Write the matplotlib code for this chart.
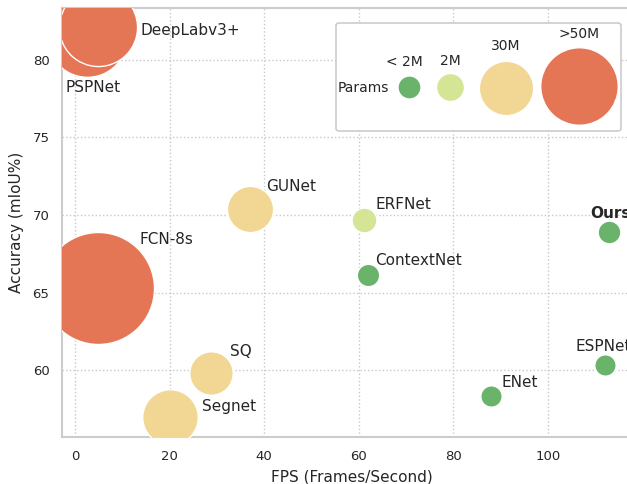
import matplotlib
matplotlib.use("Agg")
import matplotlib.pyplot as plt
from matplotlib.patches import FancyBboxPatch

# ---------------- data ----------------
models = ["PSPNet", "DeepLabv3+", "FCN-8s", "GUNet", "ERFNet", "ContextNet",
          "SQ", "Segnet", "ENet", "ESPNet", "Ours"]
fps = [2.5, 4.9, 4.9, 37.0, 61.0, 62.0, 28.8, 20.0, 88.0, 112.0, 113.0]
miou = [81.5, 82.1, 65.3, 70.4, 69.7, 66.1, 59.8, 57.0, 58.3, 60.3, 68.9]
params_m = [65.7, 63.0, 134.5, 19.0, 2.1, 0.85, 16.25, 29.5, 0.36, 0.36, 1.0]
group = [">50M", ">50M", ">50M", "30M", "2M", "<2M", "30M", "30M", "<2M", "<2M", "<2M"]

legend_labels = ["< 2M", "2M", "30M", ">50M"]
legend_groups = ["<2M", "2M", "30M", ">50M"]
legend_params = [1.2, 4.0, 28.0, 62.0]

# ---------------- style ----------------
colors = {"<2M": "#6ab36a", "2M": "#d4e596", "30M": "#f2d794", ">50M": "#e47656"}
text_c = "#262626"

def bubble_size(p):
    return 220 + 46.7 * p

# label offsets in pixels (dx right, dy up) relative to bubble centre, and alignment
label_layout = {
    "PSPNet": (-21, -51, "left", "center"),
    "DeepLabv3+": (42, -3, "left", "center"),
    "FCN-8s": (41, 48, "left", "center"),
    "GUNet": (16, 22, "left", "center"),
    "ERFNet": (12, 15, "left", "center"),
    "ContextNet": (7, 15, "left", "center"),
    "SQ": (19, 22, "left", "center"),
    "Segnet": (32, 10, "left", "center"),
    "ENet": (10, 14, "left", "center"),
    "ESPNet": (-29, 19, "left", "center"),
    "Ours": (-19, 19, "left", "center"),
}

W, H = 627, 484
fig = plt.figure(figsize=(W / 100, H / 100), dpi=100)
ax_l, ax_b, ax_w, ax_h = 62, 47, 580.6, 429
ax = fig.add_axes([ax_l / W, ax_b / H, ax_w / W, ax_h / H])
ax.set_xlim(-2.75, 120)
ax.set_ylim(55.68, 83.35)

ax.set_xticks([0, 20, 40, 60, 80, 100])
ax.set_yticks([60, 65, 70, 75, 80])
ax.grid(True, linestyle=":", color="#c8c8c8", linewidth=1.0)
ax.set_axisbelow(True)
for s in ax.spines.values():
    s.set_color("#cccccc")
    s.set_linewidth(1.5)
ax.tick_params(length=0, labelsize=9.5, colors=text_c, pad=9)
ax.set_xlabel("FPS (Frames/Second)", fontsize=11, color=text_c, labelpad=5)
ax.set_ylabel("Accuracy (mIoU%)", fontsize=11, color=text_c, labelpad=6)

for i, m in enumerate(models):
    ax.scatter(fps[i], miou[i], s=bubble_size(params_m[i]), color=colors[group[i]],
               edgecolors="white", linewidths=1.0, zorder=3 + i)
    dx, dy, ha, va = label_layout[m]
    ax.annotate(m, (fps[i], miou[i]), xytext=(dx, dy), textcoords="offset pixels",
                ha=ha, va=va, fontsize=11, color=text_c,
                fontweight="bold" if m == "Ours" else "normal", zorder=30)

# ---------------- manual legend ----------------
def fx(px):
    return (px - ax_l) / ax_w

def fy(py):
    return ((H - py) - ax_b) / ax_h

box = FancyBboxPatch((fx(336), fy(131)), fx(621) - fx(336), fy(23) - fy(131),
                     boxstyle="round,pad=0,rounding_size=0.006", transform=ax.transAxes,
                     facecolor="white", edgecolor="#cccccc", linewidth=1.2, zorder=40)
ax.add_patch(box)
ax.text(fx(363), fy(88), "Params", transform=ax.transAxes, ha="center", va="center",
        fontsize=10, color=text_c, zorder=41)
leg_px = [(409, 87, 404, 62), (450, 87, 450, 61), (506, 88, 506, 46), (579, 86, 579, 34)]
for (mx, my, tx, ty), lab, g, p in zip(leg_px, legend_labels, legend_groups, legend_params):
    ax.scatter(fx(mx), fy(my), s=bubble_size(p), color=colors[g], edgecolors="white",
               linewidths=1.0, transform=ax.transAxes, clip_on=False, zorder=42)
    ax.text(fx(tx), fy(ty), lab, transform=ax.transAxes, ha="center", va="center",
            fontsize=10, color=text_c, zorder=43)

fig.savefig("out.png", dpi=100)
